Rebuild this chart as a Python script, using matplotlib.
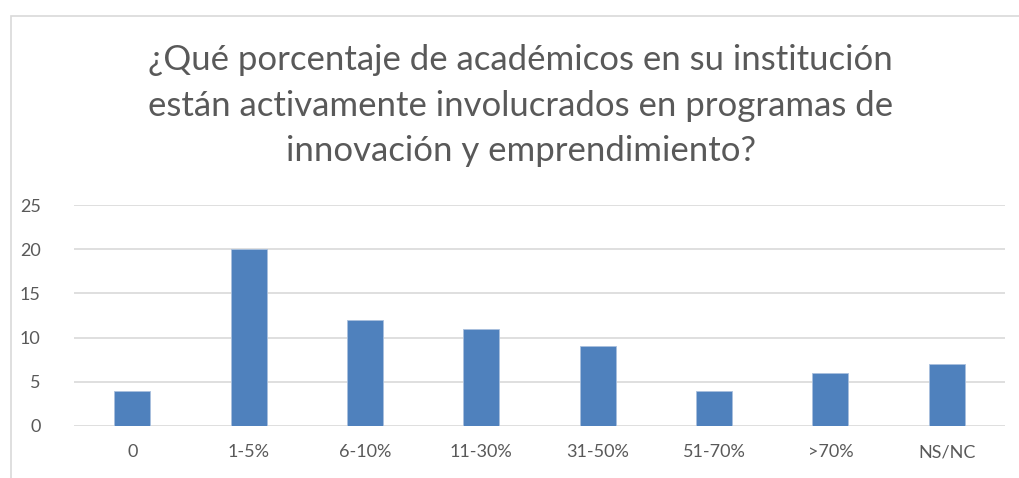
import matplotlib.pyplot as plt
from matplotlib.patches import Rectangle

categories = ['0', '1-5%', '6-10%', '11-30%', '31-50%', '51-70%', '>70%', 'NS/NC']
values = [4, 20, 12, 11, 9, 4, 6, 7]
yticks = [0, 5, 10, 15, 20, 25]
title = ('¿Qué porcentaje de académicos en su institución\n'
         'están activamente involucrados en programas de\n'
         'innovación y emprendimiento?')

plt.rcParams['font.family'] = ['Lato', 'DejaVu Sans']
gray = '#595959'

fig = plt.figure(figsize=(10.19, 4.78), dpi=100)
fig.patches.append(Rectangle((11 / 1019, -0.1), 1.1, 1 - 16 / 478 + 0.1,
                             transform=fig.transFigure, fill=False,
                             edgecolor='#D9D9D9', linewidth=1.2))

ax = fig.add_axes([74 / 1019, 1 - 426 / 478, (1005 - 74) / 1019, (426 - 205) / 478])
x = range(len(categories))
ax.bar(x, values, width=0.31, color='#4F81BD', edgecolor='#A9C0DE', linewidth=0.6, zorder=3)
ax.set_xlim(-0.5, len(categories) - 0.5)
ax.set_ylim(0, 25)
ax.set_yticks(yticks)
ax.set_xticks(list(x))
ax.set_xticklabels(categories)
ax.yaxis.grid(True, color='#D9D9D9', linewidth=1.2, zorder=0)
for s in ax.spines.values():
    s.set_visible(False)
ax.tick_params(axis='both', length=0, labelsize=13, colors=gray)
ax.tick_params(axis='y', pad=24)
ax.tick_params(axis='x', pad=13)

fig.text(0.511, 1 - 44 / 478, title, ha='center', va='top', fontsize=25,
         color=gray, linespacing=1.52)

plt.savefig('out.png', dpi=100)
